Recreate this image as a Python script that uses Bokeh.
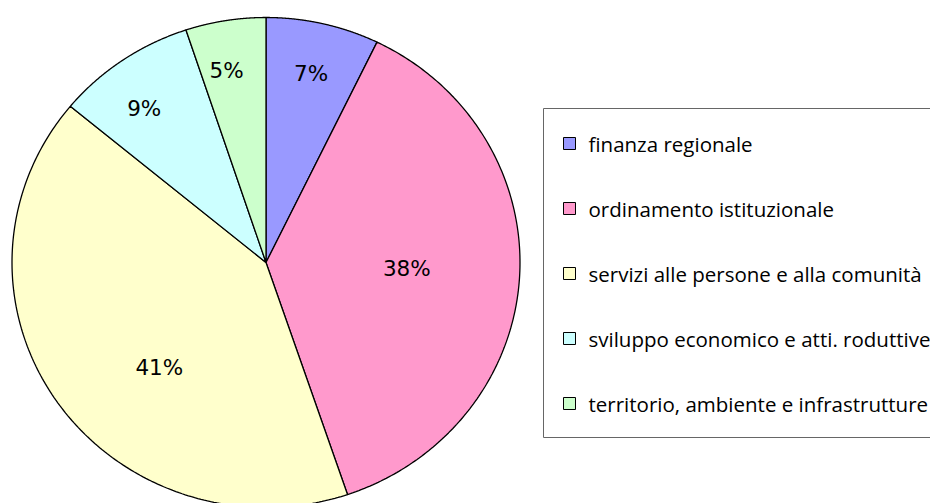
import numpy as np
from bokeh.plotting import figure
from bokeh.models import ColumnDataSource, Range1d
from bokeh.core.properties import value
from bokeh.embed import file_html
from bokeh.resources import INLINE

# ---- data ----
categories = ["finanza regionale", "ordinamento istituzionale",
              "servizi alle persone e alla comunità",
              "sviluppo economico e atti. roduttive",
              "territorio, ambiente e infrastrutture"]
shares = [7.2, 37.6, 41.2, 8.9, 5.1]
labels = ["7%", "38%", "41%", "9%", "5%"]
colors = ["#9999FF", "#FF99CC", "#FFFFCC", "#CCFFFF", "#CCFFCC"]

# ---- layout (canvas pixels, y up) ----
W, H = 930, 503
cx, cy = 265.5, 241.0
rx, ry = 254.0, 245.0
label_frac = [0.79, 0.555, 0.60, 0.79, 0.80]
label_nudge = [0.0, -1.0, -11.0, -3.0, -2.0]

p = figure(width=W, height=H, output_backend="svg", toolbar_location=None,
           x_range=Range1d(0, W), y_range=Range1d(0, H), min_border=0,
           outline_line_color=None)
p.axis.visible = False
p.grid.visible = False
p.background_fill_color = "white"

vals = np.array(shares, dtype=float)
frac = vals / vals.sum()
ends = np.cumsum(frac) * 2 * np.pi
starts = ends - frac * 2 * np.pi

xs, ys, lx, ly = [], [], [], []
for i, (a0, a1) in enumerate(zip(starts, ends)):
    t = np.linspace(a0, a1, 200)
    xs.append([cx] + list(cx + rx * np.sin(t)) + [cx])
    ys.append([cy] + list(cy + ry * np.cos(t)) + [cy])
    m = (a0 + a1) / 2 + np.deg2rad(label_nudge[i])
    lx.append(cx + label_frac[i] * rx * np.sin(m))
    ly.append(cy + label_frac[i] * ry * np.cos(m))

src = ColumnDataSource(dict(xs=xs, ys=ys, color=colors, cat=categories))
p.patches("xs", "ys", source=src, fill_color="color", line_color="black",
          line_width=1.3)

lsrc = ColumnDataSource(dict(x=lx, y=ly, t=labels))
p.text("x", "y", text="t", source=lsrc, text_font=value("DejaVu Sans"),
       text_font_size="21.5px", text_align="center", text_baseline="middle",
       text_color="black")

# ---- legend (manual) ----
box_left, box_top, box_bottom, box_right = 543, 395, 66, 950
p.quad(left=[box_left], right=[box_right], top=[box_top], bottom=[box_bottom],
       fill_color="white", line_color="#666666", line_width=1)
row_top, row_step = 360, 65
ry_rows = [row_top - i * row_step for i in range(len(categories))]
legsrc = ColumnDataSource(dict(x=[569] * len(categories), y=ry_rows,
                               tx=[588] * len(categories), c=colors,
                               cat=categories))
p.rect("x", "y", width=12, height=12, source=legsrc, fill_color="c",
       line_color="black", line_width=1)
p.text("tx", "y", text="cat", source=legsrc, text_font=value("Open Sans"),
       text_font_size="20.5px", text_align="left", text_baseline="middle",
       text_color="black")

open("out.html", "w").write(file_html(p, INLINE))
